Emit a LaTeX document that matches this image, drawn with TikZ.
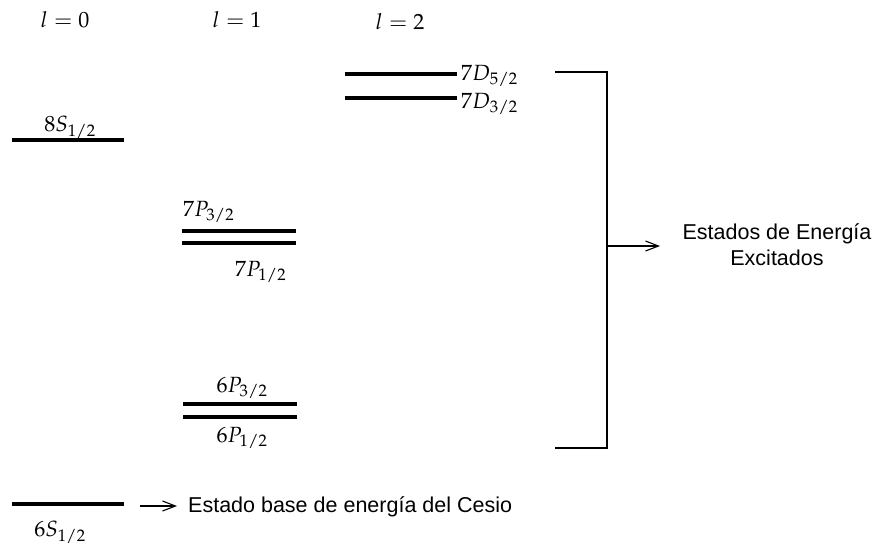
\documentclass[tikz,border=0pt]{standalone}
\usepackage{mathpazo}
\usepackage{fontspec}
\setsansfont{Liberation Sans}
\usetikzlibrary{arrows.meta}
\begin{document}
\begin{tikzpicture}[x=1pt,y=-1pt,
  level/.style={line width=3.6pt},
  lab/.style={inner sep=0pt,font=\fontsize{22}{25}\selectfont},
  txt/.style={inner sep=0pt,font=\sffamily\fontsize{21.5}{26}\selectfont},
  link/.style={line width=1.1pt},
  pointer/.style={line width=1.1pt,-{Straight Barb[length=13pt,width=10pt,line width=1.1pt]}}]
\useasboundingbox (0,0) rectangle (873,544);

% column headers
\node[lab] (h0) at (65,20) {$l=0$};
\node[lab] (h1) at (237,20) {$l=1$};
\node[lab] (h2) at (400,22) {$l=2$};

% l = 0 levels
\draw[level] (12,140) -- (124,140);
\node[lab] (s8) at (70,127) {$8S_{1/2}$};
\draw[level] (12,504) -- (124,504);
\node[lab] (s6) at (60,532) {$6S_{1/2}$};

% l = 1 levels
\draw[level] (182,231) -- (296,231);
\draw[level] (182,243) -- (296,243);
\node[lab,anchor=west] (p73) at (183,212) {$7P_{3/2}$};
\node[lab,anchor=west] (p71) at (235,272) {$7P_{1/2}$};
\draw[level] (183,404) -- (297,404);
\draw[level] (183,417) -- (297,417);
\node[lab] (p63) at (242,388) {$6P_{3/2}$};
\node[lab] (p61) at (242,438) {$6P_{1/2}$};

% l = 2 levels
\draw[level] (345,74) -- (457,74);
\draw[level] (345,98) -- (457,98);
\node[lab,anchor=west] (d75) at (461,76) {$7D_{5/2}$};
\node[lab,anchor=west] (d73) at (461,104) {$7D_{3/2}$};

% ground state note
\coordinate (g0) at (140,506);
\coordinate (g1) at (177,506);
\draw[pointer] (g0) -- (g1);
\node[txt,anchor=west] (gtext) at (188,507) {Estado base de energía del Cesio};

% bracket for excited states
\coordinate (bt) at (555,72);
\coordinate (bb) at (555,448);
\coordinate (bm) at (607,246);
\coordinate (ba) at (660,246);
\draw[link] (bt) -| (bb -| bm) -- (bb);
\draw[pointer] (bm) -- (ba);
\node[txt,align=center] (etext) at (777,245) {Estados de Energía\\Excitados};
\end{tikzpicture}
\end{document}
